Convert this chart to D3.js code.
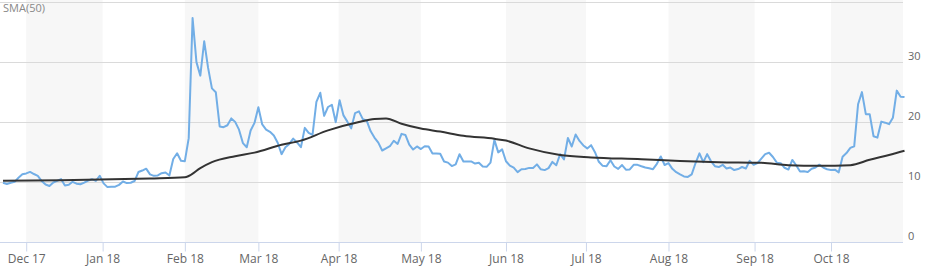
<!DOCTYPE html>
<html>
<head>
<meta charset="utf-8">
<script src="https://cdn.jsdelivr.net/npm/d3@7"></script>
<style>
    body { margin: 0; background: #fff; }
    svg { display: block; font-family: "Open Sans", "DejaVu Sans", sans-serif; }
</style>
</head>
<body>
<div id="chart"></div>
<script>
// trading calendar: weekdays from first to last, minus market holidays
var firstDay = "2017-11-22",
    lastDay = "2018-10-26",
    holidays = ["2017-11-23", "2017-12-25", "2018-01-01", "2018-01-15", "2018-02-19",
        "2018-03-30", "2018-05-28", "2018-07-04", "2018-09-03"];

// closes, one per trading day
var closes = [
    9.88, 9.67, 9.87, 10.03, 10.70, 11.28,
    11.43, 11.68, 11.33, 11.02, 10.16, 9.58, 9.34, 9.92, 10.18, 10.49, 9.42, 9.53, 10.03, 9.72, 9.62, 9.90, 10.25, 10.47, 10.18, 11.04,
    9.77, 9.15, 9.22, 9.22, 9.52, 10.08, 9.82, 9.88, 10.16, 11.66, 11.91, 12.22, 11.27, 11.03, 11.10, 11.47, 11.58, 11.08, 13.84, 14.79, 13.54,
    13.47, 17.31, 37.32, 29.98, 27.73, 33.46, 29.06, 25.61, 24.97, 19.26, 19.13, 19.46, 20.60, 20.02, 18.72, 16.49, 15.80, 18.59, 19.85,
    22.47, 19.59, 18.73, 18.36, 17.76, 16.54, 14.64, 15.78, 16.35, 17.23, 16.59, 15.80, 19.02, 18.20, 17.86, 23.34, 24.87, 21.03, 22.50, 22.87, 19.97,
    23.62, 21.10, 20.06, 18.94, 21.49, 21.77, 20.47, 20.24, 18.49, 17.41, 16.56, 15.25, 15.60, 15.96, 16.88, 16.34, 18.02, 17.84, 16.24, 15.41, 15.93,
    15.49, 15.97, 15.90, 14.77, 14.75, 14.71, 13.42, 13.23, 12.65, 12.93, 14.63, 13.42, 13.43, 13.42, 13.08, 13.22, 12.58, 12.53, 13.22, 17.02, 14.94, 15.43,
    13.46, 12.74, 12.40, 11.64, 12.13, 12.18, 12.35, 12.34, 12.94, 12.12, 11.98, 12.31, 13.35, 12.79, 14.64, 13.77, 17.33, 15.92, 17.91, 16.85, 16.09,
    15.60, 16.14, 14.97, 13.37, 12.69, 12.64, 13.63, 12.58, 12.18, 12.83, 12.06, 12.10, 12.87, 12.86, 12.62, 12.41, 12.29, 12.14, 13.03, 14.26, 12.83,
    13.15, 12.19, 11.64, 11.27, 10.93, 10.85, 11.27, 13.16, 14.78, 13.31, 14.64, 13.45, 12.64, 12.49, 12.86, 12.25, 12.41, 11.99, 12.16, 12.50, 12.25, 13.53, 12.86,
    13.16, 13.91, 14.65, 14.88, 14.16, 13.22, 13.14, 12.37, 12.07, 13.68, 12.79, 11.75, 11.80, 11.68, 12.20, 12.42, 12.89, 12.41, 12.12,
    12.00, 12.05, 11.61, 14.22, 14.82, 15.69, 15.95, 22.96, 24.98, 21.31, 21.30, 17.62, 17.40, 20.06, 19.89, 19.64, 20.71, 25.23, 24.22, 24.16
];

// SMA(50) at a few trading days (index into the calendar)
var smaIndex = [0, 15, 25, 38, 47, 48, 51, 54, 60, 65, 72, 77, 84, 92, 96, 99, 103, 108, 113, 119,
    127, 130, 136, 144, 152, 165, 175, 185, 196, 203, 211, 219, 224, 229, 233];
var smaValues = [10.2, 10.3, 10.4, 10.6, 10.8, 11.0, 12.3, 13.3, 14.3, 14.9, 16.2, 16.9, 18.6, 20.0, 20.5, 20.6, 19.7, 18.9, 18.4, 17.7,
    17.2, 16.9, 15.6, 14.5, 14.1, 13.8, 13.5, 13.3, 13.2, 12.8, 12.7, 12.8, 13.7, 14.5, 15.2];

var monthTicks = ["2017-12-01", "2018-01-01", "2018-02-01", "2018-03-01", "2018-04-01", "2018-05-01",
    "2018-06-01", "2018-07-01", "2018-08-01", "2018-09-01", "2018-10-01"];
var yTicks = [0, 10, 20, 30, 40];

(function () {
    var width = 926,
        height = 269,
        plot = { left: 3, right: 904.5, top: 2, bottom: 242, edge: 903 };

    var parse = d3.utcParse("%Y-%m-%d"),
        fmt = d3.utcFormat("%b %y");

    var skip = {};
    holidays.forEach(function (h) { skip[h] = true; });
    var days = d3.utcDay.range(parse(firstDay), d3.utcDay.offset(parse(lastDay), 1)).filter(function (d) {
        var w = d.getUTCDay();
        return w !== 0 && w !== 6 && !skip[d3.utcFormat("%Y-%m-%d")(d)];
    });

    // ordinal axis: a date between two trading days gets a fractional index
    var ordinal = function (date) {
        var i = d3.bisectRight(days, date) - 1;
        if (i < 0) return 0;
        if (i >= days.length - 1) return days.length - 1;
        return i + (date - days[i]) / (days[i + 1] - days[i]);
    };

    var x = d3.scaleLinear().domain([0, days.length - 1]).range([plot.left, plot.right]),
        y = d3.scaleLinear().domain([0, 40]).range([plot.bottom, plot.top]);

    var tickPos = monthTicks.map(function (m) { return ordinal(parse(m)); });

    var svg = d3.select("#chart").append("svg")
        .attr("width", width)
        .attr("height", height);

    // alternate month bands
    var bandEdges = tickPos.concat([null]);
    for (var b = 0; b < tickPos.length; b += 2) {
        var x0 = x(tickPos[b]),
            x1 = bandEdges[b + 1] === null || bandEdges[b + 1] === undefined ? plot.edge : x(bandEdges[b + 1]);
        svg.append("rect")
            .attr("x", x0)
            .attr("y", 0)
            .attr("width", Math.min(x1, plot.edge) - x0)
            .attr("height", plot.bottom)
            .attr("fill", "#f7f7f7");
    }

    // horizontal grid
    svg.append("g").selectAll("line")
        .data(yTicks.slice(1))
        .enter().append("line")
        .attr("x1", 0)
        .attr("x2", plot.edge)
        .attr("y1", function (d) { return Math.round(y(d)) + 0.5; })
        .attr("y2", function (d) { return Math.round(y(d)) + 0.5; })
        .attr("stroke", "#dadada");

    // right-hand labels
    svg.append("g").selectAll("text")
        .data(yTicks.slice(0, 4))
        .enter().append("text")
        .attr("x", 908)
        .attr("y", function (d) { return y(d) - 2; })
        .attr("font-size", 11)
        .attr("fill", "#666")
        .text(function (d) { return d; });

    // x axis
    var xAxis = d3.axisBottom(x)
        .tickValues(tickPos)
        .tickFormat(function (d, i) { return fmt(parse(monthTicks[i])); })
        .tickSize(9)
        .tickPadding(3)
        .tickSizeOuter(0);
    var gx = svg.append("g")
        .attr("transform", "translate(0," + (plot.bottom + 0.5) + ")")
        .call(xAxis);
    gx.select(".domain").attr("d", "M0,0H" + plot.edge).attr("stroke", "#ccd6eb");
    gx.selectAll(".tick line").attr("stroke", "#ccd6eb");
    gx.selectAll(".tick text")
        .attr("font-size", 12)
        .attr("font-family", "\"Open Sans\", sans-serif")
        .attr("fill", "#666");

    var line = d3.line()
        .x(function (d) { return x(d[0]); })
        .y(function (d) { return y(d[1]); });

    svg.append("path")
        .datum(closes.map(function (v, i) { return [i, v]; }))
        .attr("d", line)
        .attr("fill", "none")
        .attr("stroke", "#72aee6")
        .attr("stroke-width", 2)
        .attr("stroke-linejoin", "round");

    svg.append("path")
        .datum(smaIndex.map(function (v, i) { return [v, smaValues[i]]; }))
        .attr("d", line.curve(d3.curveMonotoneX))
        .attr("fill", "none")
        .attr("stroke", "#333")
        .attr("stroke-width", 2);

    svg.append("text")
        .attr("x", 3)
        .attr("y", 12)
        .attr("font-size", 11)
        .attr("fill", "#888")
        .text("SMA(50)");
}());
</script>
</body>
</html>
